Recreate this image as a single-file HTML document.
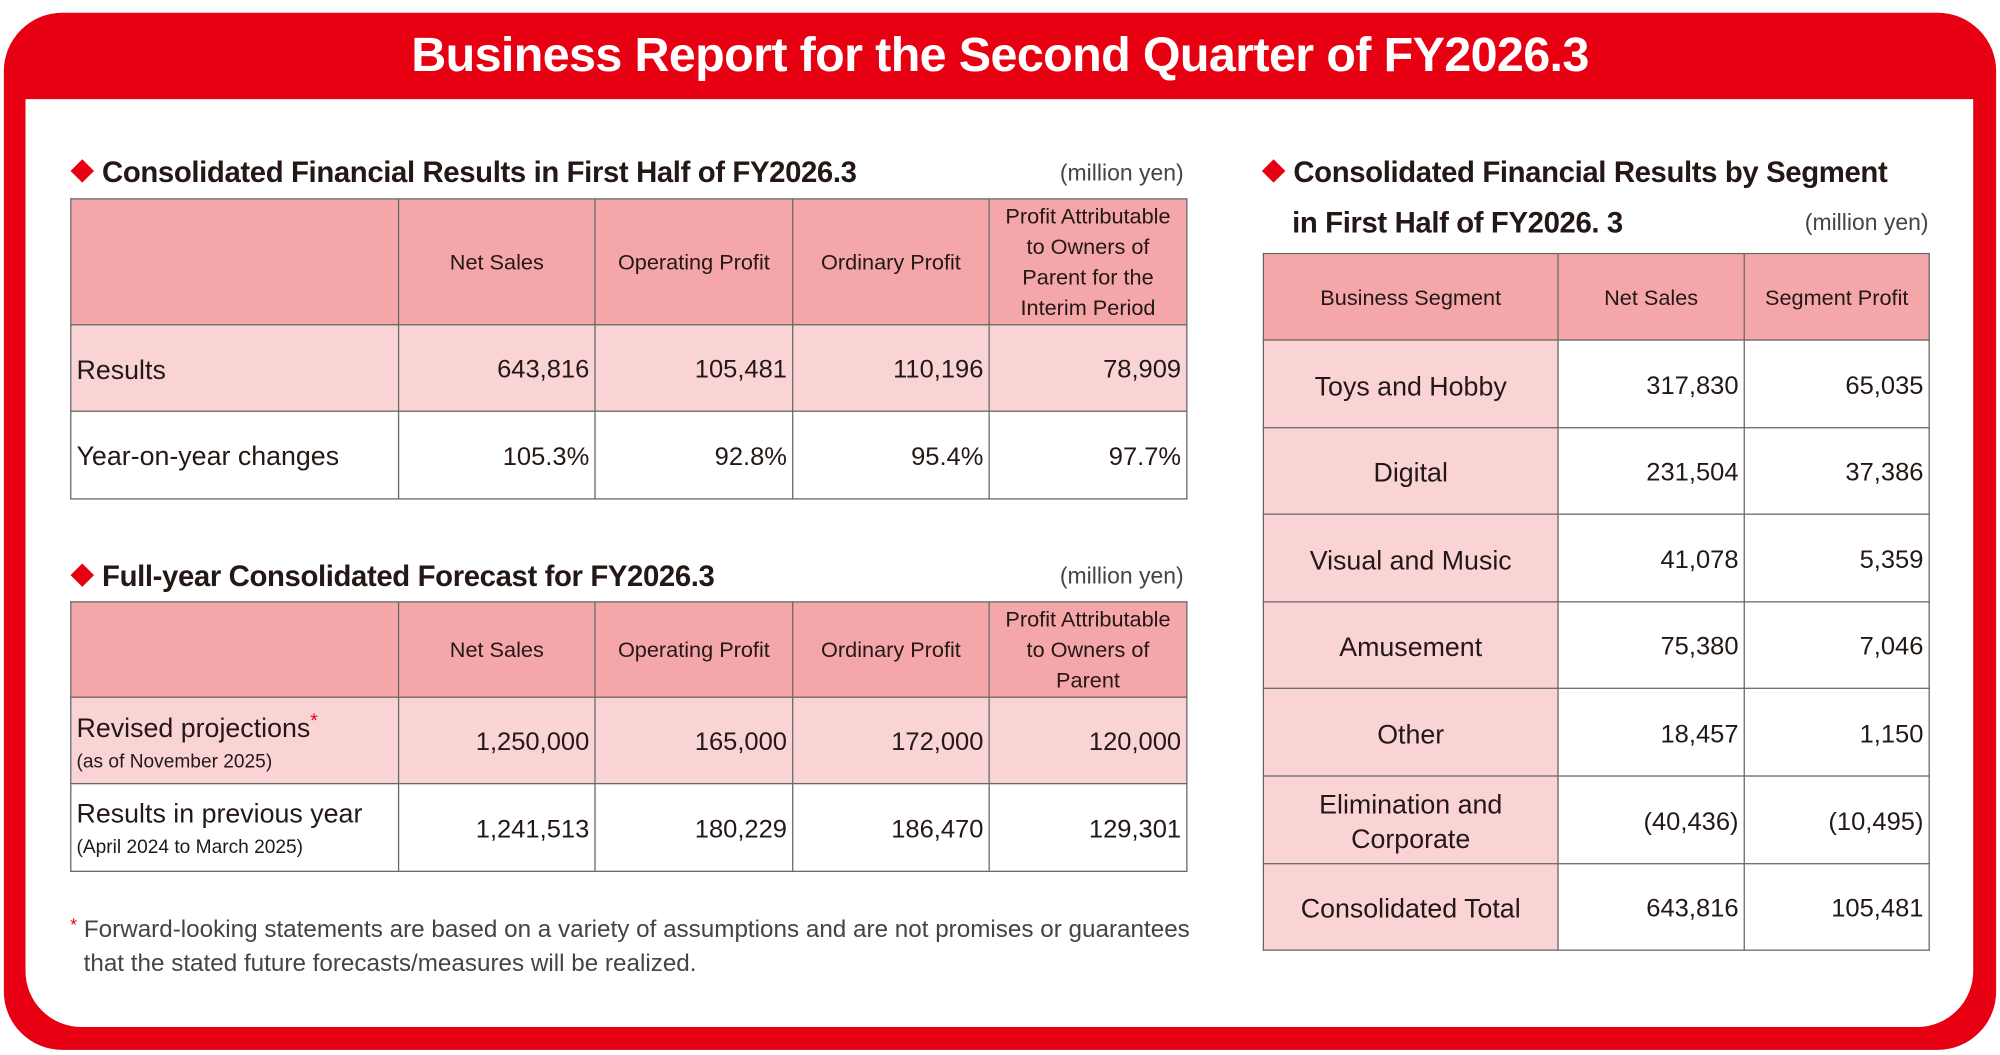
<!DOCTYPE html>
<html><head><meta charset="utf-8"><style>
html,body{margin:0;padding:0;width:2000px;height:1055px;overflow:hidden;background:#fff;}
#w{position:absolute;left:0;top:0;width:1568px;height:830px;transform-origin:0 0;transform:scale(1.2755,1.2711);font-family:"Liberation Sans",sans-serif;color:#231815;}
.red{position:absolute;left:3px;top:10px;width:1562px;height:816px;background:#e60012;border-radius:46px;}
.inner{position:absolute;left:20px;top:78px;width:1527px;height:730px;background:#fff;border-radius:0 0 44px 44px;}
.title{position:absolute;left:0;width:1568px;top:23px;text-align:center;color:#fff;font-weight:bold;font-size:38px;letter-spacing:-0.5px;}
.h{position:absolute;font-weight:bold;font-size:23px;letter-spacing:-0.3px;white-space:nowrap;}
.d{display:inline-block;width:13px;height:13px;background:#e60012;transform:rotate(45deg);margin-right:9px;vertical-align:2px;}
.u{position:absolute;font-size:18px;color:#444;white-space:nowrap;}
table{position:absolute;border-collapse:collapse;table-layout:fixed;}
td{border:1.5px solid #666;padding:4px 4px 0;font-size:20px;white-space:nowrap;}
.hd td{background:#f4a6a8;text-align:center;font-size:17px;line-height:24px;white-space:normal;padding-top:2px;}
.p td{background:#fad4d4;}
td.n{text-align:right;}
td.l{font-size:21px;}
.s{font-size:15px;}
.fn{position:absolute;left:55px;top:714px;font-size:19px;color:#444;line-height:27px;}
.rt td{text-align:center;}
.rt td.n{text-align:right;}
.rt tr td:first-child{background:#fad4d4;font-size:21px;line-height:27px;white-space:normal;}
.rt tr.hd td{background:#f4a6a8;font-size:17px;}
</style></head><body><div id="w">
<div class="red"></div><div class="inner"></div>
<div class="title">Business Report for the Second Quarter of FY2026.3</div>

<div class="h" style="left:58px;top:122px"><span class="d"></span>Consolidated Financial Results in First Half of FY2026.3</div>
<div class="u" style="right:640px;top:126px">(million yen)</div>
<table style="left:55px;top:156px;width:875px">
<colgroup><col style="width:257px"><col style="width:154px"><col style="width:155px"><col style="width:154px"><col style="width:155px"></colgroup>
<tr class="hd" style="height:97px"><td></td><td>Net Sales</td><td>Operating Profit</td><td>Ordinary Profit</td><td>Profit Attributable to Owners of Parent for the Interim Period</td></tr>
<tr class="p" style="height:68px"><td class="l">Results</td><td class="n">643,816</td><td class="n">105,481</td><td class="n">110,196</td><td class="n">78,909</td></tr>
<tr style="height:69px"><td class="l">Year-on-year changes</td><td class="n">105.3%</td><td class="n">92.8%</td><td class="n">95.4%</td><td class="n">97.7%</td></tr>
</table>

<div class="h" style="left:58px;top:440px"><span class="d"></span>Full-year Consolidated Forecast for FY2026.3</div>
<div class="u" style="right:640px;top:443px">(million yen)</div>
<table style="left:55px;top:473px;width:875px">
<colgroup><col style="width:257px"><col style="width:154px"><col style="width:155px"><col style="width:154px"><col style="width:155px"></colgroup>
<tr class="hd" style="height:73px"><td></td><td>Net Sales</td><td>Operating Profit</td><td>Ordinary Profit</td><td>Profit Attributable to Owners of Parent</td></tr>
<tr class="p" style="height:68px"><td class="l">Revised projections<span style="color:#e60012;font-size:15px;vertical-align:8px">*</span><br><span class="s">(as of November 2025)</span></td><td class="n">1,250,000</td><td class="n">165,000</td><td class="n">172,000</td><td class="n">120,000</td></tr>
<tr style="height:69px"><td class="l">Results in previous year<br><span class="s">(April 2024 to March 2025)</span></td><td class="n">1,241,513</td><td class="n">180,229</td><td class="n">186,470</td><td class="n">129,301</td></tr>
</table>
<div class="fn"><span style="color:#e60012;font-size:14px;vertical-align:5px">*</span> Forward-looking statements are based on a variety of assumptions and are not promises or guarantees<br>&nbsp;&nbsp;that the stated future forecasts/measures will be realized.</div>

<div class="h" style="left:992px;top:122px"><span class="d"></span>Consolidated Financial Results by Segment</div>
<div class="h" style="left:1013px;top:162px">in First Half of FY2026. 3</div>
<div class="u" style="right:56px;top:165px">(million yen)</div>
<table class="rt" style="left:990px;top:199px;width:522px">
<colgroup><col style="width:231px"><col style="width:146px"><col style="width:145px"></colgroup>
<tr class="hd" style="height:68px"><td>Business Segment</td><td>Net Sales</td><td>Segment Profit</td></tr>
<tr style="height:69px"><td>Toys and Hobby</td><td class="n">317,830</td><td class="n">65,035</td></tr>
<tr style="height:68px"><td>Digital</td><td class="n">231,504</td><td class="n">37,386</td></tr>
<tr style="height:69px"><td>Visual and Music</td><td class="n">41,078</td><td class="n">5,359</td></tr>
<tr style="height:68px"><td>Amusement</td><td class="n">75,380</td><td class="n">7,046</td></tr>
<tr style="height:69px"><td>Other</td><td class="n">18,457</td><td class="n">1,150</td></tr>
<tr style="height:69px"><td>Elimination and Corporate</td><td class="n">(40,436)</td><td class="n">(10,495)</td></tr>
<tr style="height:68px"><td>Consolidated Total</td><td class="n">643,816</td><td class="n">105,481</td></tr>
</table>
</div></body></html>
